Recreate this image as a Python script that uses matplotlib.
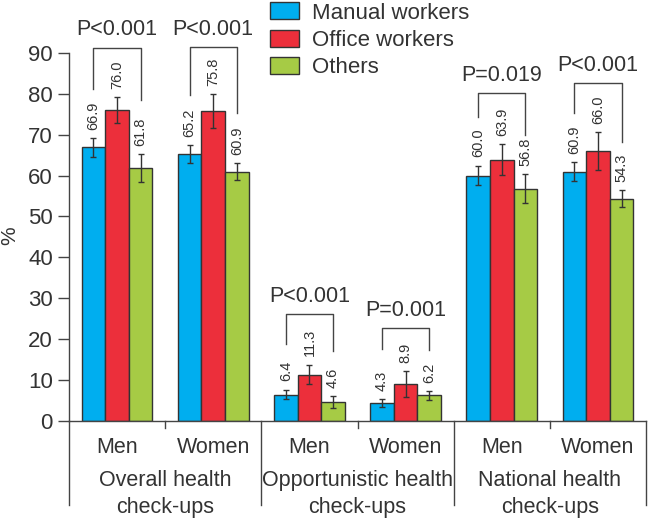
import numpy as np
import matplotlib.pyplot as plt
from matplotlib.patches import Patch

plt.rcParams['font.family'] = ['Liberation Sans', 'DejaVu Sans']

# data
sexes = ['Men', 'Women', 'Men', 'Women', 'Men', 'Women']
groups = ['Overall health\ncheck-ups', 'Opportunistic health\ncheck-ups', 'National health\ncheck-ups']
series = ['Manual workers', 'Office workers', 'Others']
manual = [66.9, 65.2, 6.4, 4.3, 60.0, 60.9]
office = [76.0, 75.8, 11.3, 8.9, 63.9, 66.0]
others = [61.8, 60.9, 4.6, 6.2, 56.8, 54.3]
manual_err = [2.3, 2.2, 1.2, 1.0, 2.4, 2.3]
office_err = [3.2, 4.1, 2.4, 3.2, 3.8, 4.7]
others_err = [3.4, 2.1, 1.4, 1.1, 3.5, 2.1]
pvals = ['P<0.001', 'P<0.001', 'P<0.001', 'P=0.001', 'P=0.019', 'P<0.001']
# bracket: top, left leg bottom, right leg bottom
br_top = [91.3, 91.5, 26.0, 22.6, 80.1, 82.6]
br_left = [81.1, 79.7, 18.7, 17.5, 74.3, 75.3]
br_right = [78.5, 75.2, 17.1, 17.3, 69.9, 68.3]

colors = ['#00aeef', '#ec2f3b', '#a6cb45']
txt = '#333333'

fig = plt.figure(figsize=(6.5, 5.19), dpi=100)
ax = fig.add_axes([0.106, 0.1894, 0.888, 0.7085])

x = np.arange(len(sexes))
w = 0.245
vals = [manual, office, others]
errs = [manual_err, office_err, others_err]
for i in range(3):
    xi = x + (i - 1) * w
    ax.bar(xi, vals[i], w, color=colors[i], edgecolor='#333333', linewidth=1.0,
           yerr=errs[i], error_kw=dict(ecolor='#333333', elinewidth=1.0, capsize=2.5, capthick=1.0))
    for xx, v, e in zip(xi, vals[i], errs[i]):
        ax.annotate(f'{v:.1f}', (xx, v + e), xytext=(0, 6), textcoords='offset points',
                    rotation=90, ha='center', va='bottom', fontsize=10.5, color=txt)

for k in range(len(sexes)):
    xl = x[k] - w
    xr = x[k] + w
    ax.plot([xl, xl, xr, xr], [br_left[k], br_top[k], br_top[k], br_right[k]],
            color='#444444', lw=1.0, clip_on=False)
    ax.text(x[k], br_top[k] + 1.8, pvals[k], ha='center', va='bottom', fontsize=15.5, color=txt)

ax.set_xlim(-0.5, 5.5)
ax.set_ylim(0, 90)
ax.set_yticks(range(0, 91, 10))
ax.tick_params(axis='y', labelsize=16, colors='#444444', labelcolor=txt, length=8, width=1.0)
ax.set_xticks([])
for s in ['top', 'right']:
    ax.spines[s].set_visible(False)
for s in ['left', 'bottom']:
    ax.spines[s].set_color('#444444')
    ax.spines[s].set_linewidth(1.0)
fig.text(10 / 650, 1 - 236 / 519, '%', rotation=90, ha='center', va='center', fontsize=15, color=txt)

tr = ax.get_xaxis_transform()
for sx in [-0.5, 1.5, 3.5, 5.5]:
    ax.plot([sx, sx], [0, -0.229], transform=tr, color='#444444', lw=1.0, clip_on=False)
for mx in [0.5, 2.5, 4.5]:
    ax.plot([mx, mx], [0, -0.02], transform=tr, color='#444444', lw=1.0, clip_on=False)
for k, s in enumerate(sexes):
    ax.text(x[k], -0.072, s, transform=tr, ha='center', va='center', fontsize=15.5, color=txt)
for g, lab in enumerate(groups):
    ax.text(2 * g + 0.5, -0.2, lab, transform=tr, ha='center', va='center',
            fontsize=15.5, color=txt, linespacing=1.4)

handles = [Patch(facecolor=c, edgecolor='#333333', lw=1.0) for c in colors]
fig.legend(handles, series, loc='upper left', bbox_to_anchor=(0.398, 1.017), frameon=False,
           fontsize=16, handlelength=1.3, handleheight=0.8, handletextpad=0.6,
           labelspacing=0.28, borderpad=0.0, labelcolor=txt)

fig.savefig('out.png', dpi=100)
